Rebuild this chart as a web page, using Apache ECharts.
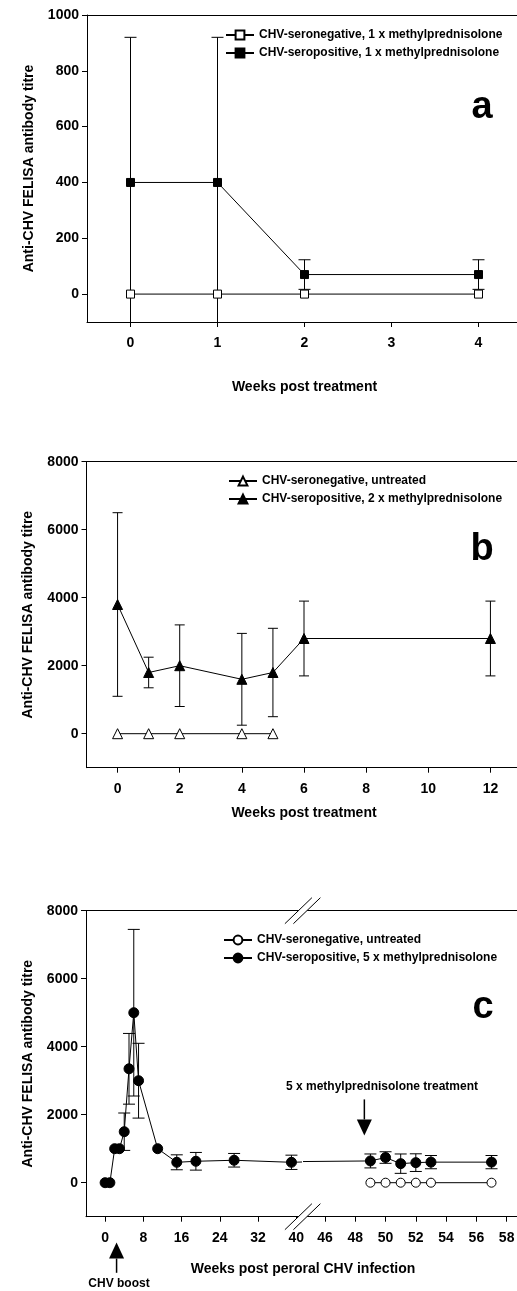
<!DOCTYPE html>
<html><head><meta charset="utf-8">
<script src="https://cdn.jsdelivr.net/npm/echarts@6/dist/echarts.min.js"></script>
<style>html,body{margin:0;padding:0;background:#fff}#c{width:517px;height:1291px}</style>
</head><body><div id="c"></div>
<script>
// ---------- Panel a ----------
const weeksA = [0, 1, 2, 4];
const negA = [0, 0, 0, 0];
const posA = [400, 400, 70, 70];
const posErrA = [520, 520, 53, 53];
const xTicksA = [0, 1, 2, 3, 4];
const yTicksA = [0, 200, 400, 600, 800, 1000];
// ---------- Panel b ----------
const weeksNegB = [0, 1, 2, 4, 5];
const negB = [0, 0, 0, 0, 0];
const weeksPosB = [0, 1, 2, 4, 5, 6, 12];
const posB = [3800, 1800, 2000, 1600, 1800, 2800, 2800];
const posErrB = [2700, 450, 1200, 1350, 1300, 1100, 1100];
const xTicksB = [0, 2, 4, 6, 8, 10, 12];
const yTicksBC = [0, 2000, 4000, 6000, 8000];
// ---------- Panel c ----------
const weeksPosC = [0, 1, 2, 3, 4, 5, 6, 7, 11, 15, 19, 27, 39, 49, 50, 51, 52, 53, 57];
const posC = [0, 0, 1000, 1000, 1500, 3350, 5000, 3000, 1000, 600, 630, 660, 600, 640, 740, 560, 590, 605, 605];
const posErrC = [0, 0, 0, 0, 550, 1040, 2450, 1100, 0, 220, 260, 200, 210, 205, 170, 285, 260, 195, 195];
const weeksNegC = [49, 50, 51, 52, 53, 57];
const negC = [0, 0, 0, 0, 0, 0];
const xTicksC1 = [0, 8, 16, 24, 32, 40];
const xTicksC2 = [46, 48, 50, 52, 54, 56, 58];
const breakRange = [41, 44.6];
const treatmentArrow = {week: 48.6, from: 2450, to: 1390};
const boostArrow = {week: 2.4, from: -2650, to: -1760};

const namesA = ['CHV-seronegative, 1 x methylprednisolone', 'CHV-seropositive, 1 x methylprednisolone'];
const namesB = ['CHV-seronegative, untreated', 'CHV-seropositive, 2 x methylprednisolone'];
const namesC = ['CHV-seronegative, untreated (c)', 'CHV-seropositive, 5 x methylprednisolone'];

const FONT = "'Liberation Sans', Arial, Helvetica, sans-serif";
const K = '#000';
const boldText = (size) => ({color: K, fontFamily: FONT, fontWeight: 'bold', fontSize: size});
const plain = (v) => String(v);

function xBottom(gi, min, max, ticks, name, nameGap) {
  return {type: 'value', gridIndex: gi, position: 'bottom', min, max,
    axisLine: {show: true, onZero: false, lineStyle: {color: K, width: 1}},
    axisTick: {show: true, inside: false, length: 5, customValues: ticks, lineStyle: {color: K, width: 1}},
    axisLabel: Object.assign({show: true, customValues: ticks, margin: 14, formatter: plain}, boldText(14)),
    splitLine: {show: false},
    name: name || '', nameLocation: 'middle', nameGap: nameGap || 30, nameTextStyle: boldText(14)};
}
function xTop(gi, min, max) {
  return {type: 'value', gridIndex: gi, position: 'top', min, max,
    axisLine: {show: true, onZero: false, lineStyle: {color: K, width: 1}},
    axisTick: {show: false}, axisLabel: {show: false}, splitLine: {show: false}};
}
function yLeft(gi, min, max, ticks, show) {
  return {type: 'value', gridIndex: gi, position: 'left', min, max, show: show !== false,
    axisLine: {show: true, onZero: false, lineStyle: {color: K, width: 1}},
    axisTick: {show: true, inside: false, length: 5, customValues: ticks, lineStyle: {color: K, width: 1}},
    axisLabel: Object.assign({show: true, customValues: ticks, margin: 8, formatter: plain}, boldText(14)),
    splitLine: {show: false},
    name: 'Anti-CHV FELISA antibody titre', nameLocation: 'middle', nameGap: 51, nameTextStyle: boldText(14)};
}
function lineSeries(name, xi, yi, weeks, vals, symbol, size, open) {
  return {type: 'line', name, xAxisIndex: xi, yAxisIndex: yi, z: 3,
    data: weeks.map((w, i) => [w, vals[i]]),
    symbol, symbolSize: size, showAllSymbol: true, clip: true,
    lineStyle: {color: K, width: 1},
    itemStyle: {color: open ? '#fff' : K, borderColor: K, borderWidth: 1, opacity: 1},
    emphasis: {disabled: true}, animation: false};
}
function errSeries(xi, yi, weeks, vals, errs, cap) {
  const data = [];
  weeks.forEach((w, i) => { if (errs[i] > 0) data.push([w, vals[i] - errs[i], vals[i] + errs[i]]); });
  return {type: 'custom', xAxisIndex: xi, yAxisIndex: yi, z: 2, clip: true, silent: true, animation: false,
    data, encode: {x: 0, y: [1, 2]},
    renderItem(params, api) {
      const x = api.value(0), lo = api.value(1), hi = api.value(2);
      const t = api.coord([x, hi]), b = api.coord([x, lo]);
      const st = {stroke: K, lineWidth: 1, fill: null};
      return {type: 'group', children: [
        {type: 'line', shape: {x1: t[0], y1: t[1], x2: b[0], y2: b[1]}, style: st},
        {type: 'line', shape: {x1: t[0] - cap, y1: t[1], x2: t[0] + cap, y2: t[1]}, style: st},
        {type: 'line', shape: {x1: b[0] - cap, y1: b[1], x2: b[0] + cap, y2: b[1]}, style: st}
      ]};
    }};
}
function legendAt(left, top, names) {
  return {orient: 'vertical', left, top, itemWidth: 28, itemHeight: 11, itemGap: 6,
    selectedMode: false, data: names, textStyle: boldText(12), padding: 0,
    formatter: (n) => n.replace(' (c)', '')};
}

// split panel c data across the axis break
function splitIdx(weeks) {
  const left = [], right = [];
  weeks.forEach((w, i) => {
    if (w < breakRange[0] || (i > 0 && weeks[i - 1] < breakRange[0])) left.push(i);
    if (w > breakRange[1] || (i < weeks.length - 1 && weeks[i + 1] > breakRange[1])) right.push(i);
  });
  return [left, right];
}
const [cL, cR] = splitIdx(weeksPosC);
const pick = (arr, idx) => idx.map(i => arr[i]);

const grids = [
  {left: 87, top: 15, width: 435, height: 307},
  {left: 86.5, top: 461.7, width: 435, height: 306},
  {left: 86, top: 910.7, width: 215, height: 306},
  {left: 303.8, top: 910.7, width: 218, height: 306}
].map(g => Object.assign({outerBoundsMode: 'none', containLabel: false, show: false}, g));

const option = {
  backgroundColor: '#fff',
  animation: false,
  grid: grids,
  xAxis: [
    xBottom(0, -0.5, 4.5, xTicksA, 'Weeks post treatment', 58), xTop(0, -0.5, 4.5),
    xBottom(1, -1, 13, xTicksB, 'Weeks post treatment', 38), xTop(1, -1, 13),
    xBottom(2, -4, 41, xTicksC1), xTop(2, -4, 41),
    xBottom(3, 44.6, 59, xTicksC2), xTop(3, 44.6, 59)
  ],
  yAxis: [
    yLeft(0, -100, 1000, yTicksA),
    yLeft(1, -1000, 8000, yTicksBC),
    yLeft(2, -1000, 8000, yTicksBC),
    yLeft(3, -1000, 8000, yTicksBC, false)
  ],
  legend: [legendAt(225, 29, namesA), legendAt(228, 475, namesB), legendAt(223, 934, namesC)],
  title: [
    {text: 'a', left: 482, top: 89, textAlign: 'center', textStyle: boldText(38), padding: 0},
    {text: 'b', left: 482, top: 531, textAlign: 'center', textStyle: boldText(38), padding: 0},
    {text: 'c', left: 483, top: 989, textAlign: 'center', textStyle: boldText(38), padding: 0},
    {text: 'Weeks post peroral CHV infection', left: 303, top: 1262, textAlign: 'center', textStyle: boldText(14), padding: 0},
    {text: 'CHV boost', left: 119, top: 1278, textAlign: 'center', textStyle: boldText(12), padding: 0},
    {text: '5 x methylprednisolone treatment', left: 382, top: 1081, textAlign: 'center', textStyle: boldText(12), padding: 0}
  ],
  series: [
    errSeries(0, 0, weeksA, posA, posErrA, 6),
    lineSeries(namesA[0], 0, 0, weeksA, negA, 'rect', 8, true),
    lineSeries(namesA[1], 0, 0, weeksA, posA, 'rect', 8, false),

    errSeries(2, 1, weeksPosB, posB, posErrB, 5),
    lineSeries(namesB[0], 2, 1, weeksNegB, negB, 'triangle', 10, true),
    lineSeries(namesB[1], 2, 1, weeksPosB, posB, 'triangle', 10, false),

    errSeries(4, 2, pick(weeksPosC, cL).filter(w => w < breakRange[0]), pick(posC, cL), pick(posErrC, cL), 6),
    lineSeries(namesC[1], 4, 2, pick(weeksPosC, cL), pick(posC, cL), 'circle', 10, false),
    errSeries(6, 3, pick(weeksPosC, cR), pick(posC, cR), pick(posErrC, cR).map((e, k) => pick(weeksPosC, cR)[k] > breakRange[1] ? e : 0), 6),
    lineSeries(namesC[0], 6, 3, weeksNegC, negC, 'circle', 9, true),
    lineSeries(namesC[1], 6, 3, pick(weeksPosC, cR), pick(posC, cR), 'circle', 10, false)
  ]
};

const chart = echarts.init(document.getElementById('c'));
chart.setOption(option);

// Decorations: axis-break marks and annotation arrows, placed through the axes' scales
function px(xi, yi, x, y) { return chart.convertToPixel({xAxisIndex: xi, yAxisIndex: yi}, [x, y]); }
const g = [];
const bL = px(4, 2, breakRange[0], 8000), bR = px(6, 3, breakRange[1], 8000);
const bx = (bL[0] + bR[0]) / 2;
[px(4, 2, 0, 8000)[1], px(4, 2, 0, -1000)[1]].forEach(y => {
  g.push({type: 'polygon', z: 100, shape: {points: [[bx - 17.5, y + 13], [bx + 9.5, y - 13], [bx + 18, y - 13], [bx - 9, y + 13]]}, style: {fill: '#fff'}});
  g.push({type: 'line', z: 101, shape: {x1: bx - 17.5, y1: y + 13, x2: bx + 9.5, y2: y - 13}, style: {stroke: K, lineWidth: 1}});
  g.push({type: 'line', z: 101, shape: {x1: bx - 9, y1: y + 13, x2: bx + 18, y2: y - 13}, style: {stroke: K, lineWidth: 1}});
});
function arrow(p0, p1) {
  const dir = Math.sign(p1[1] - p0[1]);
  const headLen = 16, headHalf = 7.5;
  const baseY = p1[1] - dir * headLen;
  g.push({type: 'line', z: 100, shape: {x1: p0[0], y1: p0[1], x2: p1[0], y2: baseY}, style: {stroke: K, lineWidth: 1.5}});
  g.push({type: 'polygon', z: 100, shape: {points: [[p1[0], p1[1]], [p1[0] - headHalf, baseY], [p1[0] + headHalf, baseY]]}, style: {fill: K}});
}
arrow(px(6, 3, treatmentArrow.week, treatmentArrow.from), px(6, 3, treatmentArrow.week, treatmentArrow.to));
arrow(px(4, 2, boostArrow.week, boostArrow.from), px(4, 2, boostArrow.week, boostArrow.to));
chart.setOption({graphic: g});
</script>
</body></html>
